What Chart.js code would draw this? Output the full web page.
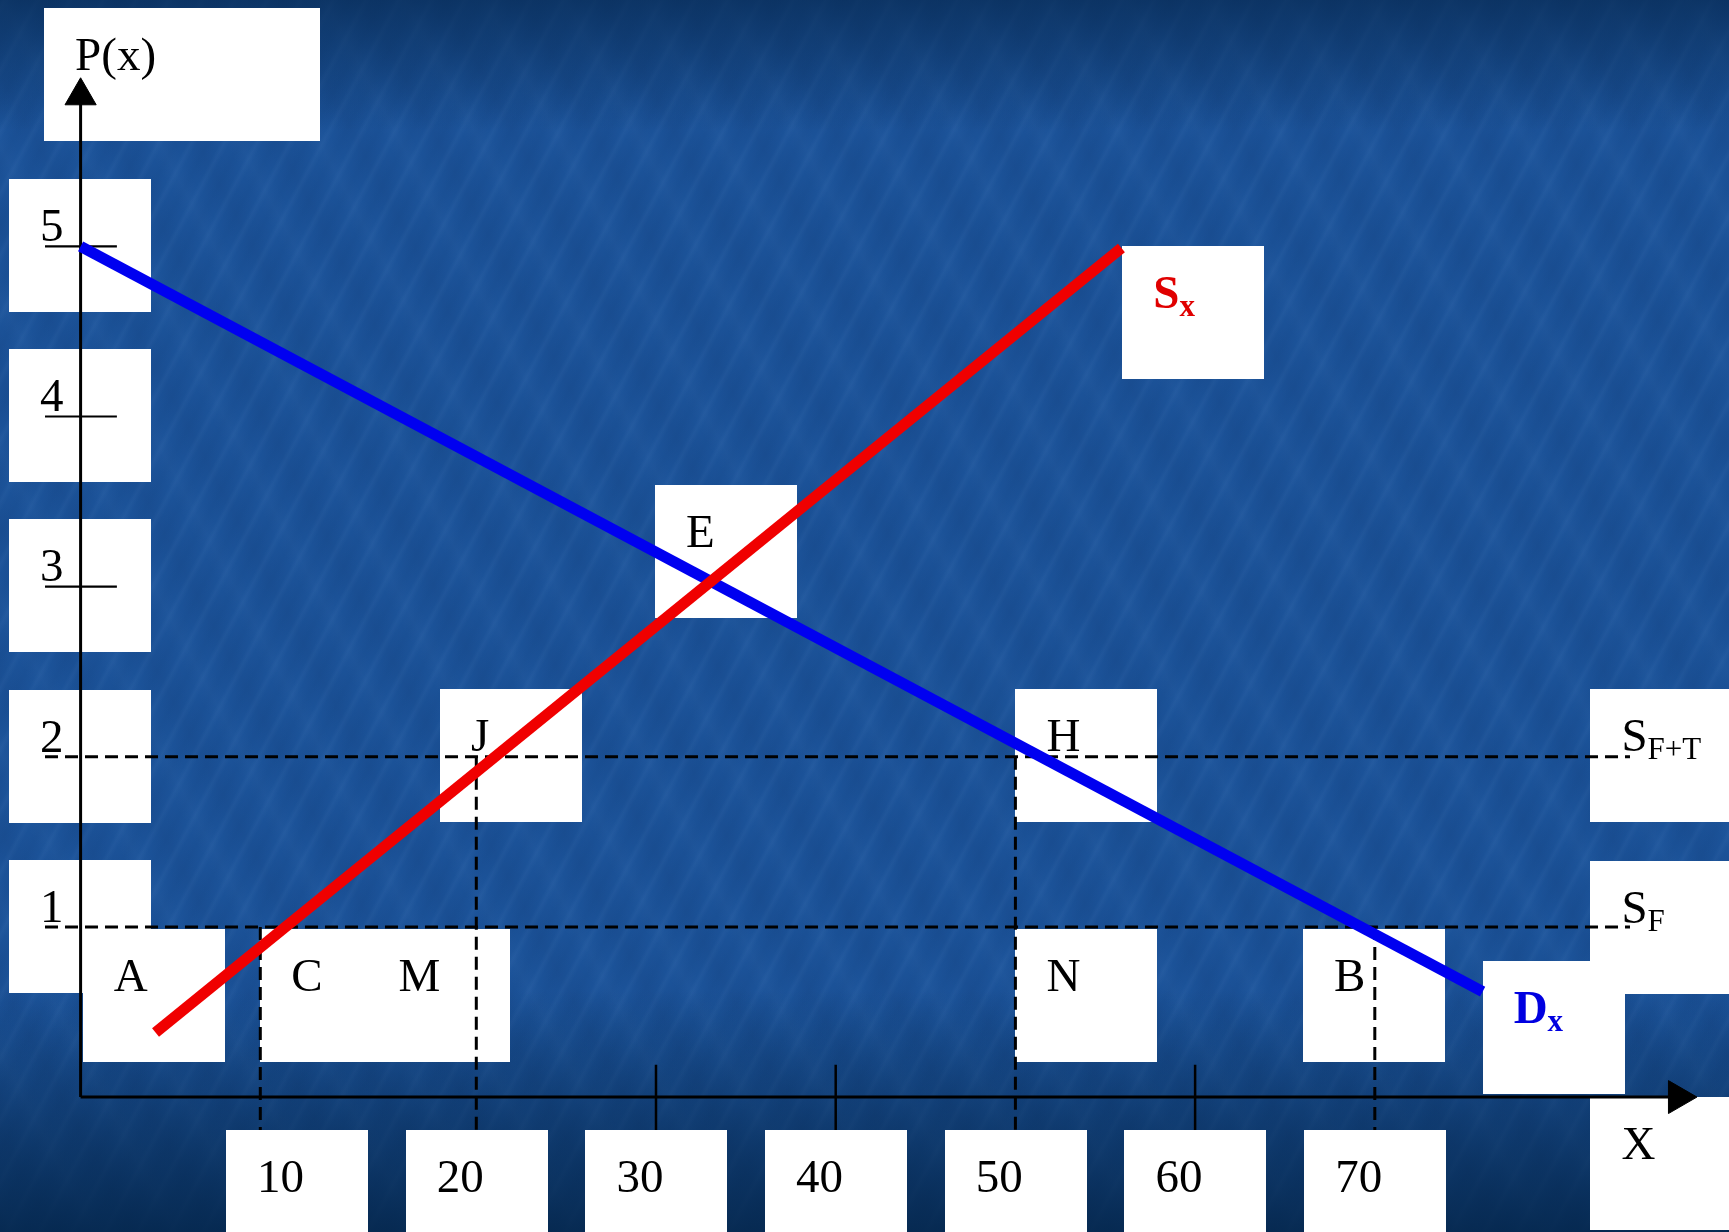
<!DOCTYPE html>
<html>
<head>
<meta charset="utf-8">
<script src="https://cdn.jsdelivr.net/npm/chart.js@4.4.1/dist/chart.umd.min.js"></script>
<style>
  html, body { margin: 0; padding: 0; }
  body {
    width: 1729px; height: 1232px; overflow: hidden;
    background:
      linear-gradient(to bottom, rgba(6,40,80,0.7) 0px, rgba(6,40,80,0) 130px, rgba(6,40,80,0) 990px, rgba(3,35,70,0.85) 1232px),
      repeating-linear-gradient(118deg, rgba(140,185,240,0) 0px, rgba(140,185,240,0.05) 4px, rgba(140,185,240,0) 9px, rgba(0,25,70,0.04) 19px, rgba(0,25,70,0) 29px),
      repeating-linear-gradient(62deg, rgba(120,170,230,0) 0px, rgba(120,170,230,0.04) 13px, rgba(120,170,230,0) 27px, rgba(0,20,60,0.05) 47px, rgba(0,20,60,0) 71px),
      #1b5298;
  }
  canvas { display: block; }
</style>
</head>
<body>
<canvas id="chart" width="1729" height="1232"></canvas>
<script>
// axis ticks
const xTicks = [10, 20, 30, 40, 50, 60, 70];
const xTickMarks = [30, 40, 60];
const yTicks = [1, 2, 3, 4, 5];

// demand Dx and supply Sx
const demandX = [-2.02, 76.0];
const demandP = [5.0, 0.62];
const supplyX = [2.15, 55.9];
const supplyP = [0.38, 4.99];

// price levels S_F and S_F+T
const sfPrice = 1;
const sftPrice = 2;

// vertical guides C, J, H/N, B
const guideX = [7.98, 20.0, 50.0, 70.0];
const guideTop = [1, 2, 2, 1];

// label boxes (top-left corner in data units)
const pointNames = ['A', 'C', 'M', 'N', 'B', 'J', 'H', 'E'];
const pointBoxX = [-1.9, 7.98, 13.95, 50.0, 66.0, 17.98, 50.0, 29.94];
const pointBoxP = [0.99, 0.99, 0.99, 0.99, 0.99, 2.40, 2.40, 3.60];

const X_MIN = -6.505, X_MAX = 89.71, Y_MIN = -0.793, Y_MAX = 6.448;
const AXIS_X = -2.02;
const BOX_W = 142, BOX_H = 133;
const FONT = '"Liberation Serif", "Times New Roman", serif';

function pts(xs, ys) { return xs.map((x, i) => ({ x: x, y: ys[i] })); }

const datasets = [];
datasets.push({ data: pts(supplyX, supplyP), borderColor: '#f00000', borderWidth: 11 });
datasets.push({ data: pts(demandX, demandP), borderColor: '#0000f0', borderWidth: 11 });

// dashed price levels
[sfPrice, sftPrice].forEach(p => {
  datasets.push({ data: pts([-4.0, 84.2], [p, p]), borderColor: '#000', borderWidth: 3, borderDash: [13, 7] });
});
guideX.forEach((x, i) => {
  datasets.push({ data: pts([x, x], [guideTop[i], -0.194]), borderColor: '#000', borderWidth: 3, borderDash: [13, 7] });
});

// axes
datasets.push({ data: pts([AXIS_X, AXIS_X], [0, 5.88]), borderColor: '#000', borderWidth: 3 });
datasets.push({ data: pts([AXIS_X, 86.87], [0, 0]), borderColor: '#000', borderWidth: 3 });
yTicks.filter(t => t > 2).forEach(t => {
  datasets.push({ data: pts([-4.0, 0.0], [t, t]), borderColor: '#000', borderWidth: 2.2 });
});
xTickMarks.forEach(t => {
  datasets.push({ data: pts([t, t], [0.19, -0.194]), borderColor: '#000', borderWidth: 2.5 });
});
// arrow heads
datasets.push({ data: [{ x: AXIS_X, y: 5.885 }], showLine: false, pointStyle: 'triangle', pointRadius: 18, rotation: 0, backgroundColor: '#000', borderColor: '#000', borderWidth: 1 });
datasets.push({ data: [{ x: 86.87, y: 0 }], showLine: false, pointStyle: 'triangle', pointRadius: 19, rotation: 90, backgroundColor: '#000', borderColor: '#000', borderWidth: 1 });

datasets.forEach(d => {
  if (d.showLine === undefined) { d.showLine = true; d.pointRadius = 0; }
  d.fill = false;
});

// label list: [parts, boxX, boxTop, boxWidth]
function labelList() {
  const L = [];
  L.push([[{ t: 'P(x)' }], -4.05, 6.40, 276]);
  yTicks.forEach(t => L.push([[{ t: String(t) }], -6.01, t + 0.395, BOX_W]));
  xTicks.forEach(t => L.push([[{ t: String(t) }], t - 3.93, -0.194, BOX_W]));
  pointNames.forEach((n, i) => L.push([[{ t: n }], pointBoxX[i], pointBoxP[i], BOX_W]));
  L.push([[{ t: 'S', c: '#e00000', b: true }, { t: 'x', c: '#e00000', b: true, sub: true }], 55.95, 5.0, BOX_W]);
  L.push([[{ t: 'D', c: '#0000e0', b: true }, { t: 'x', c: '#0000e0', b: true, sub: true }], 76.0, 0.80, BOX_W]);
  L.push([[{ t: 'S' }, { t: 'F+T', sub: true }], 82.0, 2.40, 180]);
  L.push([[{ t: 'S' }, { t: 'F', sub: true }], 82.0, 1.39, 180]);
  L.push([[{ t: 'X' }], 82.0, 0.0, 180]);
  return L;
}

const slidePlugin = {
  id: 'slide',
  beforeDatasetsDraw(chart) {
    const ctx = chart.ctx, xs = chart.scales.x, ys = chart.scales.y;
    ctx.save();
    ctx.fillStyle = '#ffffff';
    labelList().forEach(l => {
      const left = Math.round(xs.getPixelForValue(l[1]));
      const top = Math.round(ys.getPixelForValue(l[2]));
      ctx.fillRect(left, top, l[3], BOX_H);
    });
    ctx.restore();
  },
  afterDatasetsDraw(chart) {
    const ctx = chart.ctx, xs = chart.scales.x, ys = chart.scales.y;
    ctx.save();
    ctx.textBaseline = 'alphabetic';
    ctx.textAlign = 'left';
    labelList().forEach(l => {
      let x = xs.getPixelForValue(l[1]) + 31;
      const base = ys.getPixelForValue(l[2]) + 62;
      l[0].forEach(p => {
        const size = p.sub ? 31 : 47;
        ctx.font = (p.b ? 'bold ' : '') + size + 'px ' + FONT;
        ctx.fillStyle = p.c || '#000';
        ctx.fillText(p.t, x, base + (p.sub ? 8 : 0));
        x += ctx.measureText(p.t).width;
      });
    });
    ctx.restore();
  }
};

new Chart(document.getElementById('chart'), {
  type: 'scatter',
  data: { datasets: datasets },
  options: {
    responsive: false,
    animation: false,
    events: [],
    layout: { padding: 0, autoPadding: false },
    plugins: { legend: { display: false }, tooltip: { enabled: false } },
    scales: {
      x: { type: 'linear', min: X_MIN, max: X_MAX, display: false },
      y: { type: 'linear', min: Y_MIN, max: Y_MAX, display: false }
    }
  },
  plugins: [slidePlugin]
});
</script>
</body>
</html>
